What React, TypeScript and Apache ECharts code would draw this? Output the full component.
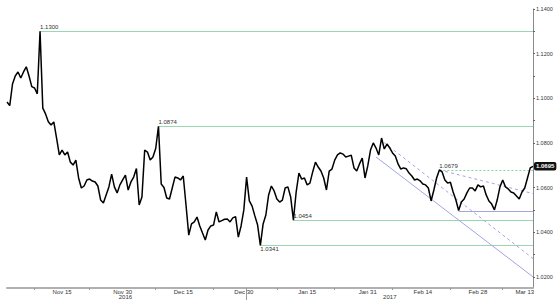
import React, { useEffect, useRef } from "react";
import * as echarts from "echarts";

// ---- data ----
const startDate = "2016-11-01";
const endDate = "2017-03-14";
const sessions = ["AM", "PM"];

const prices: number[] = [
  1.0983, 1.0967, 1.1064, 1.1100, 1.1118, 1.1091, 1.1118, 1.1141, 1.1100, 1.1052,
  1.1046, 1.1020, 1.1300, 1.0956, 1.0930, 1.0895, 1.0880, 1.0894, 1.0822, 1.0746,
  1.0768, 1.0746, 1.0759, 1.0714, 1.0701, 1.0723, 1.0643, 1.0598, 1.0607, 1.0634,
  1.0638, 1.0629, 1.0625, 1.0607, 1.0544, 1.0531, 1.0567, 1.0603, 1.0660, 1.0603,
  1.0576, 1.0612, 1.0634, 1.0656, 1.0589, 1.0625, 1.0647, 1.0685, 1.0522, 1.0558,
  1.0768, 1.0759, 1.0723, 1.0737, 1.0775, 1.0874, 1.0616, 1.0600, 1.0553, 1.0549,
  1.0598, 1.0647, 1.0643, 1.0634, 1.0652, 1.0522, 1.0387, 1.0437, 1.0446, 1.0468,
  1.0428, 1.0396, 1.0365, 1.0410, 1.0428, 1.0432, 1.0491, 1.0446, 1.0452, 1.0458,
  1.0459, 1.0446, 1.0464, 1.0470, 1.0378, 1.0428, 1.0500, 1.0647, 1.0540, 1.0517,
  1.0473, 1.0432, 1.0341, 1.0437, 1.0477, 1.0567, 1.0607, 1.0585, 1.0549, 1.0535,
  1.0544, 1.0598, 1.0603, 1.0558, 1.0454, 1.0580, 1.0665, 1.0638, 1.0643, 1.0612,
  1.0620, 1.0670, 1.0714, 1.0692, 1.0674, 1.0643, 1.0589, 1.0674, 1.0683, 1.0723,
  1.0746, 1.0755, 1.0750, 1.0737, 1.0741, 1.0745, 1.0688, 1.0674, 1.0706, 1.0732,
  1.0643, 1.0697, 1.0768, 1.0800, 1.0777, 1.0746, 1.0822, 1.0773, 1.0795, 1.0777,
  1.0755, 1.0741, 1.0706, 1.0683, 1.0688, 1.0684, 1.0665, 1.0652, 1.0634, 1.0638,
  1.0630, 1.0616, 1.0612, 1.0598, 1.0540, 1.0589, 1.0643, 1.0679, 1.0670, 1.0634,
  1.0620, 1.0624, 1.0580, 1.0544, 1.0497, 1.0535, 1.0549, 1.0576, 1.0598, 1.0598,
  1.0585, 1.0612, 1.0603, 1.0607, 1.0567, 1.0540, 1.0526, 1.0500, 1.0544, 1.0603,
  1.0634, 1.0603, 1.0594, 1.0580, 1.0576, 1.0562, 1.0549, 1.0580, 1.0598, 1.0643,
  1.0688, 1.0695,
];

const levels: number[] = [1.13, 1.0874, 1.0454, 1.0341];
const levelsBelowLabel: number[] = [1.0341];
const resistanceLevel = 1.0679;

const trendSolid: [string, number][] = [["2017-02-02 AM", 1.0737], ["2017-03-14 PM", 1.02]];
const trendDashed: [string, number][] = [["2017-02-03 PM", 1.0801], ["2017-03-14 PM", 1.0282]];
const peakTrend: [string, number][] = [["2017-02-17 PM", 1.0679], ["2017-03-14 PM", 1.0573]];
const floorLine: [string, number][] = [["2017-02-23 AM", 1.0495], ["2017-03-14 PM", 1.0495]];

const dateLabelCats = [
  "2016-11-15 AM", "2016-11-30 AM", "2016-12-15 AM", "2016-12-30 AM",
  "2017-01-16 PM", "2017-01-31 PM", "2017-02-14 PM", "2017-02-28 PM", "2017-03-13 AM",
];
const dateLabelTexts = ["Nov 15", "Nov 30", "Dec 15", "Dec 30", "Jan 15", "Jan 31", "Feb 14", "Feb 28", "Mar 13"];
const minorTickCats = [
  "2016-11-08 AM", "2016-11-22 AM", "2016-12-08 AM", "2016-12-22 PM",
  "2017-01-09 AM", "2017-01-23 PM", "2017-02-07 AM", "2017-02-21 PM", "2017-03-07 AM",
];
const yearLabelCats = ["2016-11-30 PM", "2017-02-06 PM"];
const yearLabelTexts = ["2016", "2017"];
const yearBreakCat = "2016-12-30 PM";

const yLabelValues = [1.02, 1.04, 1.06, 1.08, 1.1, 1.12, 1.14];
const yMinorValues = [1.03, 1.05, 1.07, 1.09, 1.11, 1.13];
const yMin = 1.015;
const yMax = 1.14;

// ---- helpers ----
function buildCategories(): string[] {
  const out: string[] = [];
  const d = new Date(startDate + "T00:00:00Z");
  const end = new Date(endDate + "T00:00:00Z");
  while (d.getTime() <= end.getTime()) {
    const wd = d.getUTCDay();
    if (wd !== 0 && wd !== 6) {
      const s = d.toISOString().slice(0, 10);
      for (const p of sessions) out.push(`${s} ${p}`);
    }
    d.setUTCDate(d.getUTCDate() + 1);
  }
  return out;
}

const FONT = "'Liberation Sans', Arial, sans-serif";

export default function App() {
  const ref = useRef<HTMLDivElement>(null);

  useEffect(() => {
    if (!ref.current) return;
    const chart = echarts.init(ref.current, undefined, { renderer: "svg" });

    const categories = buildCategories();
    const idx = (c: string) => categories.indexOf(c);
    const lastIdx = prices.length - 1;

    const labelMap: Record<string, string> = {};
    dateLabelCats.forEach((c, i) => (labelMap[c] = dateLabelTexts[i]));
    const labelIdx = new Set(dateLabelCats.map(idx));
    const minorIdx = new Set(minorTickCats.map(idx));
    const yearMap: Record<string, string> = {};
    yearLabelCats.forEach((c, i) => (yearMap[c] = yearLabelTexts[i]));
    const yearIdx = new Set(yearLabelCats.map(idx));
    const breakIdx = idx(yearBreakCat);

    const green = "#98d6b4";
    const lav = "#a4a4e2";
    const txt = { fontSize: 6, color: "#333", fontFamily: FONT };

    const segment = (pts: [string, number][], style: any) => [
      { coord: [idx(pts[0][0]), pts[0][1]], lineStyle: style, label: { show: false } },
      { coord: [idx(pts[1][0]), pts[1][1]] },
    ];

    const markData: any[] = [
      ...levels.map((v) => [
        {
          coord: [prices.lastIndexOf(v), v],
          lineStyle: { color: green, width: 1, type: "solid" },
          label: {
            show: true,
            formatter: v.toFixed(4),
            position: levelsBelowLabel.includes(v) ? "insideStartBottom" : "insideStartTop",
            distance: [0, 1],
            ...txt,
          },
        },
        { coord: [lastIdx, v] },
      ]),
      [
        {
          coord: [prices.lastIndexOf(resistanceLevel), resistanceLevel],
          lineStyle: { color: "#86cf9f", width: 1, type: [2, 2] },
          label: {
            show: true,
            formatter: resistanceLevel.toFixed(4),
            position: "insideStartTop",
            distance: [0, 1],
            ...txt,
          },
        },
        { coord: [lastIdx, resistanceLevel] },
      ],
      segment(trendSolid, { color: lav, width: 1, type: "solid" }),
      segment(trendDashed, { color: lav, width: 1, type: [3, 3] }),
      segment(peakTrend, { color: lav, width: 1, type: [3, 3] }),
      segment(floorLine, { color: lav, width: 1, type: "solid" }),
    ];

    chart.setOption({
      animation: false,
      backgroundColor: "#fff",
      textStyle: { fontFamily: FONT },
      grid: { left: 7, right: 24, top: 9, bottom: 17, containLabel: false, outerBoundsMode: "none" },
      xAxis: [
        {
          type: "category",
          data: categories,
          boundaryGap: false,
          axisLine: { show: true, lineStyle: { color: "#b0b0b0", width: 2 } },
          axisTick: {
            show: true,
            interval: (i: number) => minorIdx.has(i),
            length: 2,
            lineStyle: { color: "#999" },
          },
          axisLabel: {
            show: true,
            interval: (i: number) => labelIdx.has(i),
            formatter: (v: string) => labelMap[v] ?? "",
            margin: 1,
            ...txt,
          },
          splitLine: { show: false },
        },
        {
          type: "category",
          data: categories,
          boundaryGap: false,
          position: "bottom",
          axisLine: { show: false },
          axisTick: {
            show: true,
            interval: (i: number) => i === breakIdx,
            length: 12,
            lineStyle: { color: "#999" },
          },
          axisLabel: {
            show: true,
            interval: (i: number) => yearIdx.has(i),
            formatter: (v: string) => yearMap[v] ?? "",
            margin: 6,
            ...txt,
          },
          splitLine: { show: false },
        },
      ],
      yAxis: {
        type: "value",
        position: "right",
        min: yMin,
        max: yMax,
        axisLine: { show: true, lineStyle: { color: "#8a8a8a", width: 1 } },
        axisTick: {
          show: true,
          customValues: [...yLabelValues, ...yMinorValues],
          length: 2,
          lineStyle: { color: "#666" },
        },
        axisLabel: {
          show: true,
          customValues: yLabelValues,
          formatter: (v: number) => v.toFixed(4),
          margin: 3,
          fontSize: 5.5,
          color: "#333",
          fontFamily: FONT,
        },
        splitLine: { show: false },
      },
      series: [
        {
          type: "line",
          data: prices,
          symbol: "none",
          showSymbol: false,
          lineStyle: { color: "#000", width: 1.5 },
          z: 3,
          endLabel: {
            show: true,
            formatter: (p: any) => Number(p.value).toFixed(4),
            color: "#fff",
            backgroundColor: "#111",
            padding: [1.5, 2, 1, 2],
            borderRadius: 2,
            fontSize: 6,
            fontWeight: "bold",
            distance: 1,
            fontFamily: FONT,
          },
          markLine: {
            silent: true,
            symbol: ["none", "none"],
            animation: false,
            z: 1,
            data: markData,
          },
        },
      ],
    });

    return () => chart.dispose();
  }, []);

  return (
    <div
      ref={ref}
      style={{ position: "fixed", left: 0, top: 0, width: 557, height: 305, background: "#fff" }}
    />
  );
}
